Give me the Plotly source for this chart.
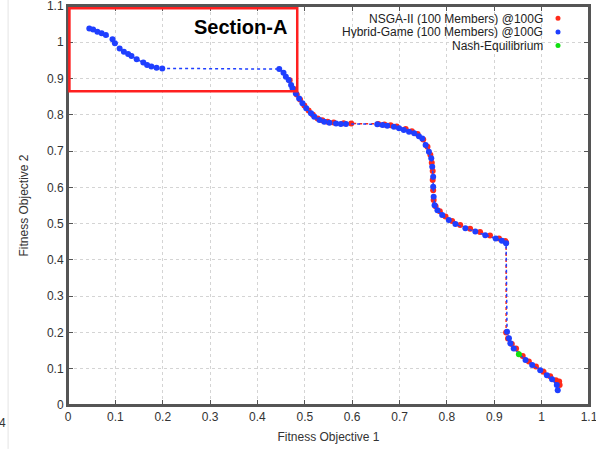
import plotly.graph_objects as go

# ---------------- data ----------------
hybrid_x = [0.045, 0.053, 0.062, 0.071, 0.080, 0.094, 0.099, 0.109, 0.118, 0.127, 0.134, 0.145,
            0.159, 0.167, 0.176, 0.187, 0.199, 0.446, 0.455, 0.460, 0.466, 0.471, 0.474, 0.481,
            0.488, 0.495, 0.503, 0.513, 0.520, 0.531, 0.541, 0.552, 0.566, 0.576, 0.587, 0.653,
            0.664, 0.674, 0.688, 0.699, 0.709, 0.720, 0.731, 0.741, 0.748, 0.755, 0.762, 0.767,
            0.769, 0.771, 0.771, 0.772, 0.774, 0.780, 0.790, 0.804, 0.818, 0.839, 0.860, 0.881,
            0.903, 0.916, 0.925, 0.927, 0.931, 0.934, 0.941, 0.966, 0.980, 0.997, 1.011, 1.022,
            1.032, 1.034]
hybrid_y = [1.038, 1.035, 1.029, 1.025, 1.020, 1.008, 0.997, 0.983, 0.974, 0.968, 0.962, 0.953,
            0.944, 0.937, 0.933, 0.930, 0.928, 0.926, 0.916, 0.905, 0.896, 0.882, 0.873, 0.859,
            0.845, 0.832, 0.818, 0.804, 0.795, 0.786, 0.781, 0.778, 0.776, 0.775, 0.775, 0.774,
            0.772, 0.770, 0.767, 0.763, 0.758, 0.753, 0.749, 0.741, 0.735, 0.717, 0.698, 0.680,
            0.657, 0.629, 0.602, 0.574, 0.551, 0.537, 0.524, 0.510, 0.499, 0.487, 0.478, 0.468,
            0.459, 0.453, 0.446, 0.202, 0.184, 0.170, 0.156, 0.124, 0.110, 0.096, 0.082, 0.071,
            0.055, 0.041]

nsga_x = [0.468, 0.476, 0.483, 0.490, 0.499, 0.508, 0.517, 0.527, 0.537, 0.548, 0.561, 0.582,
          0.598, 0.655, 0.668, 0.681, 0.694, 0.713, 0.726, 0.738, 0.750, 0.759, 0.765, 0.768,
          0.770, 0.770, 0.771, 0.772, 0.776, 0.785, 0.797, 0.811, 0.828, 0.849, 0.870, 0.891,
          0.910, 0.923, 0.925, 0.925, 0.929, 0.937, 0.946, 0.960, 0.973, 0.988, 1.004, 1.018,
          1.030, 1.037, 1.038]
nsga_y = [0.895, 0.872, 0.856, 0.842, 0.826, 0.812, 0.800, 0.790, 0.785, 0.781, 0.779, 0.777,
          0.776, 0.775, 0.773, 0.771, 0.768, 0.761, 0.755, 0.747, 0.732, 0.712, 0.690, 0.668,
          0.645, 0.620, 0.592, 0.565, 0.548, 0.534, 0.520, 0.507, 0.496, 0.486, 0.477, 0.467,
          0.459, 0.452, 0.448, 0.200, 0.183, 0.168, 0.156, 0.135, 0.120, 0.106, 0.092, 0.079,
          0.068, 0.065, 0.055]

nash_x = [0.952]
nash_y = [0.140]

legend_labels = ["NSGA-II (100 Members) @100G", "Hybrid-Game (100 Members) @100G", "Nash-Equilibrium"]
tick_vals = [0, 0.1, 0.2, 0.3, 0.4, 0.5, 0.6, 0.7, 0.8, 0.9, 1, 1.1]
tick_text = ["0", "0.1", "0.2", "0.3", "0.4", "0.5", "0.6", "0.7", "0.8", "0.9", "1", "1.1"]

RED = "#ff2a1a"
BLUE = "#1f3fff"
GREEN = "#10e010"
FONT = "Liberation Sans, Arial, sans-serif"

fig = go.Figure()
fig.add_trace(go.Scatter(x=nsga_x, y=nsga_y, mode="lines+markers",
                         line=dict(color=RED, width=1.5, dash="dot"),
                         marker=dict(color=RED, size=6), name=legend_labels[0]))
fig.add_trace(go.Scatter(x=hybrid_x, y=hybrid_y, mode="lines+markers",
                         line=dict(color=BLUE, width=1.5, dash="dot"),
                         marker=dict(color=BLUE, size=6), name=legend_labels[1]))
fig.add_trace(go.Scatter(x=nash_x, y=nash_y, mode="markers",
                         marker=dict(color=GREEN, size=6), name=legend_labels[2]))

axis_common = dict(range=[0, 1.1], tickvals=tick_vals, ticktext=tick_text,
                   ticks="inside", ticklen=5, tickwidth=1, tickcolor="#555",
                   showline=True, linecolor="#555", linewidth=2, mirror="ticks",
                   showgrid=True, gridcolor="#d4d4d4", griddash="dot", gridwidth=1,
                   zeroline=False, tickfont=dict(family=FONT, size=12, color="#333"),
                   ticklabeloverflow="allow",
                   automargin=False, fixedrange=True)

fig.update_xaxes(**axis_common,
                 title=dict(text="Fitness Objective 1", font=dict(family=FONT, size=12, color="#333"),
                            standoff=9))
fig.update_yaxes(**axis_common,
                 title=dict(text="Fitness Objective 2", font=dict(family=FONT, size=12, color="#333"),
                            standoff=16))

shapes = [
    dict(type="rect", xref="paper", yref="paper", x0=0, x1=1, y0=0, y1=1, layer="above",
         line=dict(color="#555", width=2), fillcolor="rgba(0,0,0,0)"),
    dict(type="rect", xref="x", yref="y", x0=0.003, x1=0.484, y0=0.865, y1=1.094,
         line=dict(color="#ff2020", width=2.5), fillcolor="rgba(0,0,0,0)"),
    dict(type="line", xref="paper", yref="paper", x0=-0.115, x1=-0.115, y0=-0.11, y1=1.015,
         line=dict(color="#e4e4e4", width=1)),
]
legend_y = [0.969, 0.935, 0.901]
legend_colors = [RED, BLUE, GREEN]
annotations = [
    dict(text="<b>Section-A</b>", x=0.365, y=1.041, xref="x", yref="y", showarrow=False,
         font=dict(family=FONT, size=20, color="black"), xanchor="center", yanchor="middle"),
    dict(text="4", x=-0.125, y=-0.045, xref="paper", yref="paper", showarrow=False,
         font=dict(family=FONT, size=12, color="#333"), xanchor="center", yanchor="middle"),
]
for lab, yy, col in zip(legend_labels, legend_y, legend_colors):
    annotations.append(dict(text=lab, x=0.913, y=yy, xref="paper", yref="paper", showarrow=False,
                            xanchor="right", yanchor="middle", height=13, borderpad=0,
                            font=dict(family=FONT, size=12, color="#222")))
    shapes.append(dict(type="circle", xref="paper", yref="paper", xsizemode="pixel",
                       ysizemode="pixel", xanchor=0.9405, yanchor=yy,
                       x0=-2.5, x1=2.5, y0=-2.5, y1=2.5,
                       fillcolor=col, line=dict(color=col, width=0)))

fig.update_layout(width=596, height=452, showlegend=False,
                  margin=dict(l=68, r=7, t=6, b=47),
                  paper_bgcolor="white", plot_bgcolor="white",
                  shapes=shapes, annotations=annotations)

fig.write_html("out.html", config={"displayModeBar": False},
               post_script="document.body.style.margin='0px';document.body.style.padding='0px';")
